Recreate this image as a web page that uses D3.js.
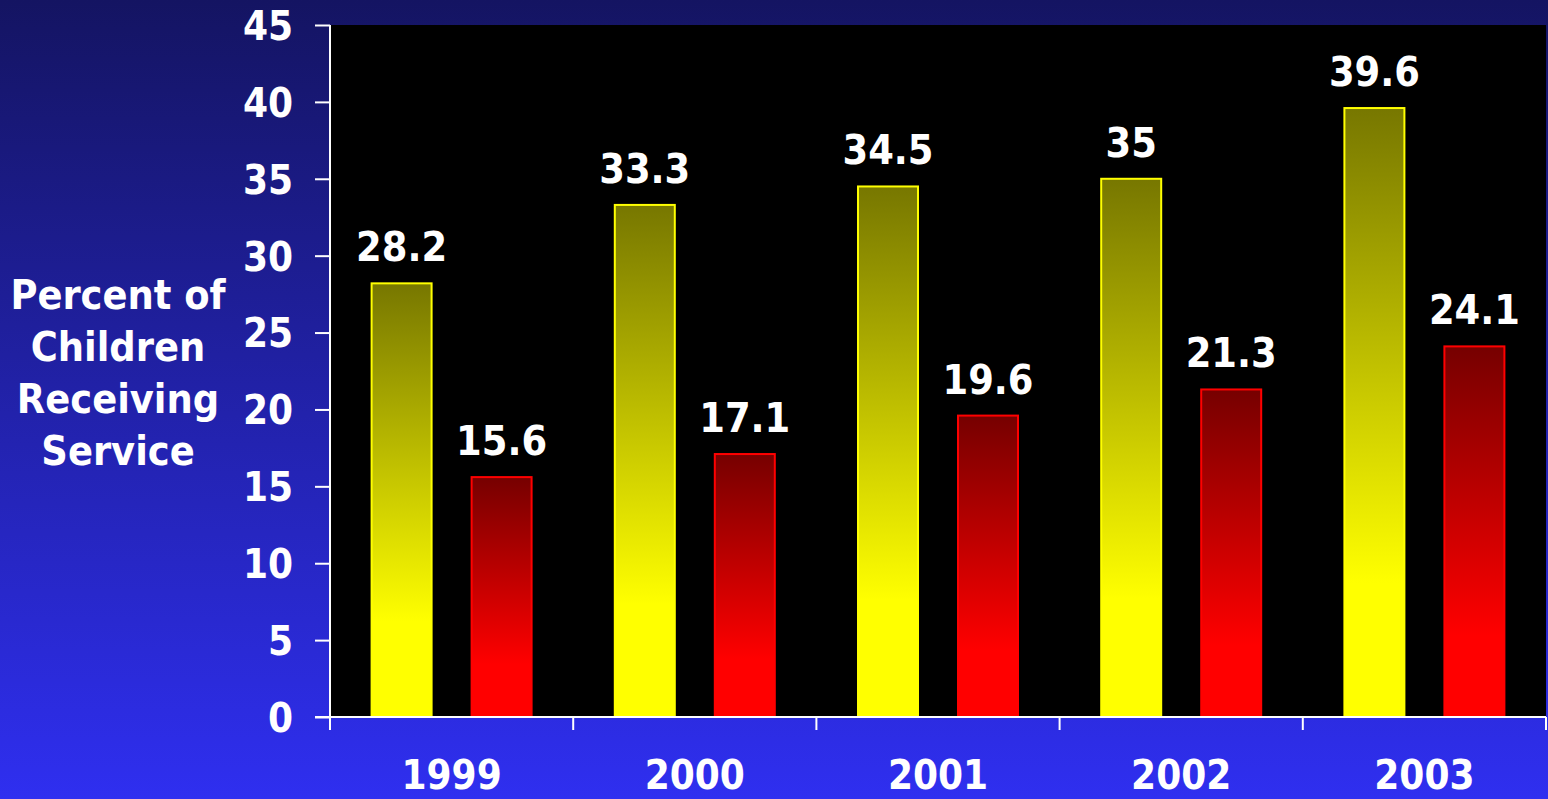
<!DOCTYPE html>
<html>
<head>
<meta charset="utf-8">
<script src="https://cdn.jsdelivr.net/npm/d3@7/dist/d3.min.js"></script>
<style>
  html, body { margin: 0; padding: 0; background: #141464; }
  svg { display: block; }
  text { font-family: "DejaVu Sans Condensed", "DejaVu Sans", Verdana, sans-serif; font-stretch: condensed; font-weight: bold; fill: #ffffff; }
</style>
</head>
<body>
<svg id="chart" width="1548" height="799"></svg>
<script>
const categories = ["1999", "2000", "2001", "2002", "2003"];
const seriesNames = ["A", "B"];
const seriesA = [28.2, 33.3, 34.5, 35, 39.6];
const seriesB = [15.6, 17.1, 19.6, 21.3, 24.1];
const yTicks = [0, 5, 10, 15, 20, 25, 30, 35, 40, 45];
const axisTitle = ["Percent of", "Children", "Receiving", "Service"];

const W = 1548, H = 799;
const plot = { left: 330, right: 1546, top: 25, bottom: 717 };

const svg = d3.select("#chart");
const defs = svg.append("defs");

// background gradient
const bg = defs.append("linearGradient").attr("id", "bg").attr("x1", 0).attr("y1", 0).attr("x2", 0).attr("y2", 1);
bg.append("stop").attr("offset", "0%").attr("stop-color", "#141462");
bg.append("stop").attr("offset", "100%").attr("stop-color", "#2f2ff0");
svg.append("rect").attr("x", 0).attr("y", 0).attr("width", W).attr("height", H).attr("fill", "url(#bg)");

// bar gradients
const gY = defs.append("linearGradient").attr("id", "gY").attr("x1", 0).attr("y1", 0).attr("x2", 0).attr("y2", 1);
gY.append("stop").attr("offset", "0%").attr("stop-color", "#777700");
gY.append("stop").attr("offset", "78%").attr("stop-color", "#ffff00");
gY.append("stop").attr("offset", "100%").attr("stop-color", "#ffff00");
const gR = defs.append("linearGradient").attr("id", "gR").attr("x1", 0).attr("y1", 0).attr("x2", 0).attr("y2", 1);
gR.append("stop").attr("offset", "0%").attr("stop-color", "#760000");
gR.append("stop").attr("offset", "78%").attr("stop-color", "#ff0000");
gR.append("stop").attr("offset", "100%").attr("stop-color", "#ff0000");

const x = d3.scaleBand().domain(categories).range([plot.left, plot.right]).paddingInner(0).paddingOuter(0);
const xs = d3.scaleBand().domain(seriesNames).range([0, x.bandwidth()]).paddingInner(0.4).paddingOuter(0.416);
const y = d3.scaleLinear().domain([0, 45]).range([plot.bottom, plot.top]);

// plot area
svg.append("rect").attr("x", plot.left + 1).attr("y", plot.top)
  .attr("width", plot.right - plot.left - 1).attr("height", plot.bottom - plot.top)
  .attr("fill", "#000000");

const fills = { A: "url(#gY)", B: "url(#gR)" };
const strokes = { A: "#ffff00", B: "#ff0000" };
const rows = categories.map((c, i) => ({ cat: c, A: seriesA[i], B: seriesB[i] }));

const groups = svg.append("g").selectAll("g").data(rows).join("g")
  .attr("transform", d => `translate(${x(d.cat)},0)`);

groups.selectAll("rect").data(d => seriesNames.map(s => ({ s, v: d[s] }))).join("rect")
  .attr("x", d => xs(d.s))
  .attr("y", d => y(d.v))
  .attr("width", xs.bandwidth())
  .attr("height", d => y(0) - y(d.v))
  .attr("fill", d => fills[d.s])
  .attr("stroke", d => strokes[d.s])
  .attr("stroke-width", 2);

groups.selectAll("text").data(d => seriesNames.map(s => ({ s, v: d[s] }))).join("text")
  .attr("x", d => xs(d.s) + xs.bandwidth() / 2)
  .attr("y", d => y(d.v) - 22)
  .attr("text-anchor", "middle")
  .style("font-size", "41px")
  .text(d => String(d.v));

// y axis
const yAxis = d3.axisLeft(y).tickValues(yTicks).tickSize(15).tickSizeOuter(0).tickPadding(22);
const gy = svg.append("g").attr("transform", `translate(${plot.left},0)`).call(yAxis);
gy.select(".domain").remove();
gy.selectAll(".tick line").attr("stroke", "#ffffff").attr("stroke-width", 2);
gy.selectAll(".tick text").attr("fill", "#ffffff").style("font-size", "40px").attr("dy", "0.36em");
svg.append("line").attr("x1", plot.left).attr("x2", plot.left).attr("y1", plot.top).attr("y2", plot.bottom + 13)
  .attr("stroke", "#ffffff").attr("stroke-width", 2);

// x axis
svg.append("line").attr("x1", plot.left - 15).attr("x2", plot.right).attr("y1", plot.bottom).attr("y2", plot.bottom)
  .attr("stroke", "#ffffff").attr("stroke-width", 2);
const bounds = categories.map(c => x(c)).concat([x.range()[1]]);
svg.append("g").selectAll("line").data(bounds).join("line")
  .attr("x1", d => d).attr("x2", d => d).attr("y1", plot.bottom).attr("y2", plot.bottom + 13)
  .attr("stroke", "#ffffff").attr("stroke-width", 2);
svg.append("g").selectAll("text").data(categories).join("text")
  .attr("x", d => x(d) + x.bandwidth() / 2)
  .attr("y", 789)
  .attr("text-anchor", "middle")
  .style("font-size", "40px")
  .text(d => d);

// axis title
svg.append("g").selectAll("text").data(axisTitle).join("text")
  .attr("x", 118)
  .attr("y", (d, i) => 309 + i * 52)
  .attr("text-anchor", "middle")
  .style("font-size", "41px")
  .text(d => d);
</script>
</body>
</html>
